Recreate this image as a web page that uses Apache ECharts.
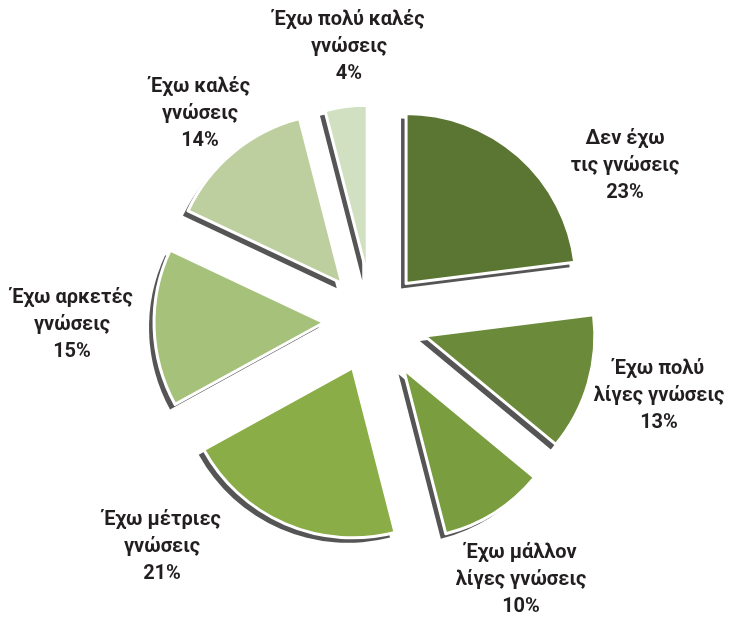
<!DOCTYPE html>
<html>
<head>
<meta charset="utf-8">
<script src="https://cdn.jsdelivr.net/npm/echarts@6/dist/echarts.min.js"></script>
<style>
  html, body { margin: 0; padding: 0; background: #fff; }
  #chart { width: 745px; height: 618px; }
</style>
</head>
<body>
<div id="chart"></div>
<script>
// data, clockwise from 12 o'clock
const categories = [
  'Δεν έχω\nτις γνώσεις',
  'Έχω πολύ\nλίγες γνώσεις',
  'Έχω μάλλον\nλίγες γνώσεις',
  'Έχω μέτριες\nγνώσεις',
  'Έχω αρκετές\nγνώσεις',
  'Έχω καλές\nγνώσεις',
  'Έχω πολύ καλές\nγνώσεις'
];
const values = [23, 13, 10, 21, 15, 14, 4];

// look
const colors = ['#5b7633', '#6b8a3a', '#7a9d40', '#8bad47', '#a5c17a', '#bdcf9e', '#d2e0c2'];
const explode = [50, 54, 57, 51, 49, 49, 46];           // slice offset from centre, px
const labelPos = [[625, 166], [659, 396], [521, 580], [162, 547], [72, 325], [200, 114], [349, 47]];
const pieCenter = [373, 321];
const pieRadius = 170;
const shadowShift = [-5, 5];

const chart = echarts.init(document.getElementById('chart'));

// one pie per slice so every slice gets its own pull-out distance
function slicePie(i, isShadow) {
  const fill = isShadow ? '#555555' : colors[i];
  const border = isShadow ? {borderWidth: 0} : {borderColor: '#ffffff', borderWidth: 3};
  return {
    type: 'pie',
    center: isShadow ? [pieCenter[0] + shadowShift[0], pieCenter[1] + shadowShift[1]] : pieCenter,
    radius: pieRadius,
    startAngle: 90,
    clockwise: true,
    selectedMode: 'multiple',
    selectedOffset: explode[i],
    avoidLabelOverlap: false,
    silent: true,
    label: {show: false},
    labelLine: {show: false},
    itemStyle: border,
    select: {itemStyle: Object.assign({color: fill}, border)},
    data: categories.map((n, j) => j === i
      ? {name: n, value: values[j], selected: true, itemStyle: {color: fill}}
      : {name: n, value: values[j], itemStyle: {color: 'rgba(0,0,0,0)', borderWidth: 0}})
  };
}

let series = [];
categories.forEach((n, i) => series.push(slicePie(i, true)));
categories.forEach((n, i) => series.push(slicePie(i, false)));

// invisible copy that only carries the labels
series.push({
  type: 'pie',
  center: pieCenter,
  radius: pieRadius,
  startAngle: 90,
  clockwise: true,
  silent: true,
  avoidLabelOverlap: false,
  itemStyle: {color: 'rgba(0,0,0,0)', borderWidth: 0},
  label: {
    show: true,
    position: 'outside',
    formatter: '{b}\n{c}%',
    fontFamily: 'Roboto',
    fontWeight: 'bold',
    fontSize: 20,
    lineHeight: 27,
    color: '#231f20'
  },
  labelLine: {show: false},
  labelLayout: (params) => ({
    x: labelPos[params.dataIndex][0],
    y: labelPos[params.dataIndex][1],
    align: 'center',
    verticalAlign: 'middle'
  }),
  data: categories.map((n, j) => ({name: n, value: values[j]}))
});

chart.setOption({
  animation: false,
  backgroundColor: '#ffffff',
  series: series
});
</script>
</body>
</html>
